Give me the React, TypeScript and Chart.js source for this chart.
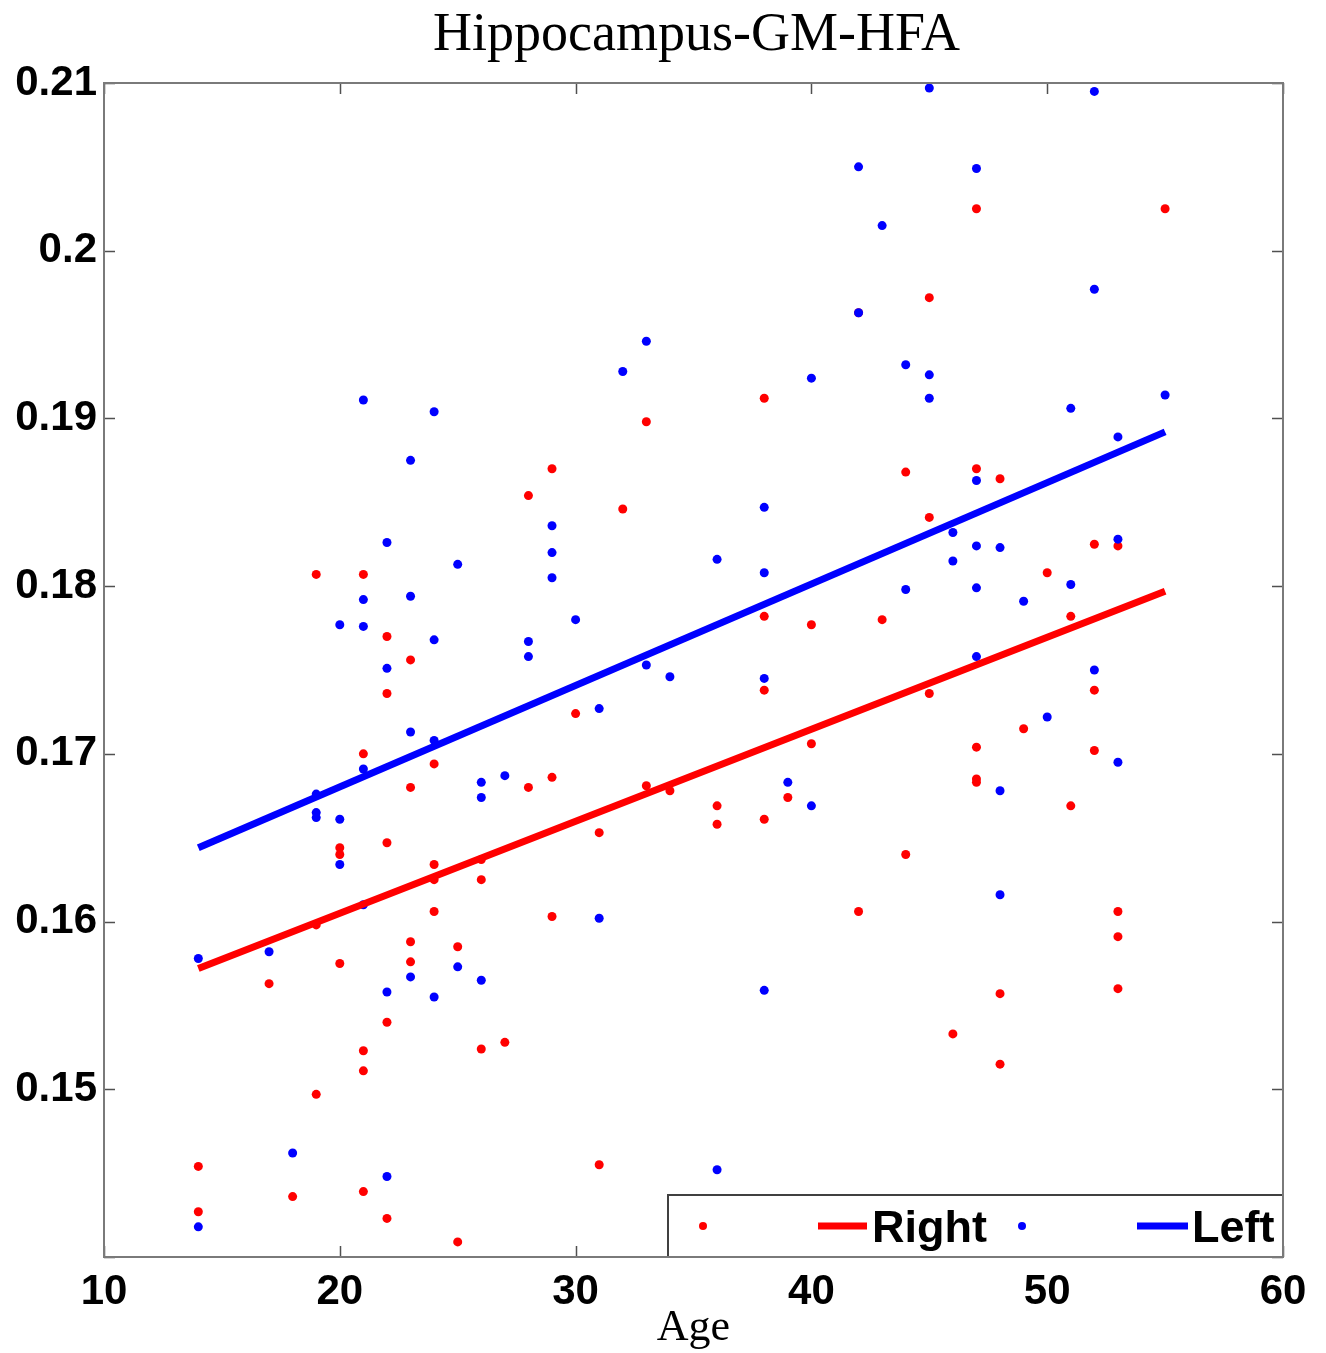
import { useEffect, useRef } from "react";
import { Chart, registerables } from "chart.js";
Chart.register(...registerables);

const chartTitle = "Hippocampus-GM-HFA";
const xAxisLabel = "Age";
const xTickValues = [10, 20, 30, 40, 50, 60];
const yTickValues = [0.14, 0.15, 0.16, 0.17, 0.18, 0.19, 0.2, 0.21];

const rightAges = [
  14, 14, 17, 18, 19, 19, 19, 20, 20, 20, 21, 21, 21, 21, 21, 22, 22, 22, 22, 22,
  23, 23, 23, 23, 24, 24, 24, 24, 25, 25, 26, 26, 26, 27, 28, 28, 29, 29, 29, 30,
  31, 31, 32, 33, 33, 34, 36, 36, 38, 38, 38, 38, 39, 40, 40, 42, 42, 43, 44, 44,
  45, 45, 45, 46, 47, 47, 47, 47, 47, 48, 48, 48, 49, 50, 51, 51, 52, 52, 52, 53,
  53, 53, 53, 55,
];
const rightValues = [
  0.1454, 0.1427, 0.1563, 0.1436, 0.1807, 0.1598, 0.1497, 0.1644, 0.164, 0.1575,
  0.1807, 0.17, 0.1523, 0.1511, 0.1439, 0.177, 0.1736, 0.1647, 0.154, 0.1423,
  0.1756, 0.168, 0.1588, 0.1576, 0.1694, 0.1634, 0.1625, 0.1606, 0.1585, 0.1409,
  0.1637, 0.1625, 0.1524, 0.1528, 0.1854, 0.168, 0.187, 0.1686, 0.1603, 0.1724,
  0.1653, 0.1455, 0.1846, 0.1898, 0.1681, 0.1678, 0.1669, 0.1658, 0.1912, 0.1782,
  0.1738, 0.1661, 0.1674, 0.1777, 0.1706, 0.1963, 0.1606, 0.178, 0.1868, 0.164,
  0.1972, 0.1841, 0.1736, 0.1533, 0.2025, 0.187, 0.1704, 0.1685, 0.1683, 0.1864,
  0.1557, 0.1515, 0.1715, 0.1808, 0.1782, 0.1669, 0.1825, 0.1738, 0.1702, 0.1824,
  0.1606, 0.1591, 0.156, 0.2025,
];

const leftAges = [
  14, 14, 17, 18, 19, 19, 19, 20, 20, 20, 21, 21, 21, 21, 21, 22, 22, 22, 22, 23,
  23, 23, 23, 24, 24, 24, 24, 25, 25, 26, 26, 26, 27, 28, 28, 29, 29, 29, 30, 31,
  31, 32, 33, 33, 34, 36, 36, 38, 38, 38, 38, 39, 40, 40, 42, 42, 43, 44, 44, 45,
  45, 45, 46, 46, 47, 47, 47, 47, 47, 48, 48, 48, 49, 50, 51, 51, 52, 52, 52, 53,
  53, 53, 55,
];
const leftValues = [
  0.1578, 0.1418, 0.1582, 0.1462, 0.1676, 0.1665, 0.1662, 0.1777, 0.1661, 0.1634,
  0.1911, 0.1792, 0.1776, 0.1691, 0.161, 0.1826, 0.1751, 0.1558, 0.1448, 0.1875,
  0.1794, 0.1713, 0.1567, 0.1904, 0.1768, 0.1708, 0.1555, 0.1813, 0.1573, 0.1683,
  0.1674, 0.1565, 0.1687, 0.1767, 0.1758, 0.1836, 0.182, 0.1805, 0.178, 0.1727,
  0.1602, 0.1928, 0.1946, 0.1753, 0.1746, 0.1816, 0.1452, 0.1847, 0.1808, 0.1745,
  0.1559, 0.1683, 0.1924, 0.1669, 0.205, 0.1963, 0.2015, 0.1932, 0.1798, 0.2097,
  0.1926, 0.1912, 0.1832, 0.1815, 0.2049, 0.1863, 0.1824, 0.1799, 0.1758, 0.1823,
  0.1678, 0.1616, 0.1791, 0.1722, 0.1906, 0.1801, 0.2095, 0.1977, 0.175, 0.1889,
  0.1828, 0.1695, 0.1914,
];

const fitAges = [14, 55];
const rightFit = [0.1572, 0.1797];
const leftFit = [0.1644, 0.1892];

const RED = "rgb(255,0,0)";
const BLUE = "rgb(0,0,255)";

const decorPlugin = {
  id: "decor",
  beforeDraw(chart: any) {
    const { ctx, width, height } = chart;
    ctx.save();
    ctx.fillStyle = "#ffffff";
    ctx.fillRect(0, 0, width, height);
    ctx.restore();
  },
  afterDraw(chart: any) {
    const { ctx, chartArea: a } = chart;
    const xs = chart.scales.x;
    const ys = chart.scales.y;
    ctx.save();
    // inner ticks
    ctx.strokeStyle = "#505050";
    ctx.lineWidth = 1.5;
    const tl = 11;
    ctx.beginPath();
    for (const v of xTickValues) {
      const px = Math.round(xs.getPixelForValue(v)) + 0.5;
      ctx.moveTo(px, a.bottom);
      ctx.lineTo(px, a.bottom - tl);
      ctx.moveTo(px, a.top);
      ctx.lineTo(px, a.top + tl);
    }
    for (const v of yTickValues) {
      const py = Math.round(ys.getPixelForValue(v)) + 0.5;
      ctx.moveTo(a.left, py);
      ctx.lineTo(a.left + tl, py);
      ctx.moveTo(a.right, py);
      ctx.lineTo(a.right - tl, py);
    }
    ctx.stroke();

    // legend box
    const lw = 615;
    const lh = 62;
    const lx = a.right - lw;
    const ly = a.bottom - lh;
    ctx.fillStyle = "#ffffff";
    ctx.fillRect(lx, ly, lw, lh);
    ctx.strokeStyle = "#404040";
    ctx.lineWidth = 2;
    ctx.strokeRect(lx, ly, lw, lh);
    const cy = ly + 31;
    ctx.fillStyle = RED;
    ctx.beginPath();
    ctx.arc(lx + 35, cy, 4, 0, Math.PI * 2);
    ctx.fill();
    ctx.strokeStyle = RED;
    ctx.lineWidth = 7;
    ctx.beginPath();
    ctx.moveTo(lx + 150, cy);
    ctx.lineTo(lx + 199, cy);
    ctx.stroke();
    ctx.fillStyle = BLUE;
    ctx.beginPath();
    ctx.arc(lx + 354, cy, 4, 0, Math.PI * 2);
    ctx.fill();
    ctx.strokeStyle = BLUE;
    ctx.beginPath();
    ctx.moveTo(lx + 469, cy);
    ctx.lineTo(lx + 520, cy);
    ctx.stroke();
    ctx.fillStyle = "#000000";
    ctx.font = 'bold 45px "Liberation Sans", Arial, sans-serif';
    ctx.textAlign = "left";
    ctx.textBaseline = "alphabetic";
    ctx.fillText("Right", lx + 204, cy + 16);
    ctx.fillText("Left", lx + 524, cy + 16);

    // plot box
    ctx.strokeStyle = "#7a7a7a";
    ctx.lineWidth = 2;
    ctx.strokeRect(a.left, a.top, a.right - a.left, a.bottom - a.top);

    // title
    ctx.fillStyle = "#000000";
    ctx.font = '54px "Liberation Serif", "Times New Roman", serif';
    ctx.textAlign = "center";
    ctx.fillText(chartTitle, (a.left + a.right) / 2 + 3, 50);
    // x axis label
    ctx.font = '44px "Liberation Serif", "Times New Roman", serif';
    ctx.fillText(xAxisLabel, (a.left + a.right) / 2, a.bottom + 83);
    ctx.restore();
  },
};

export default function App() {
  const canvasRef = useRef<HTMLCanvasElement | null>(null);

  useEffect(() => {
    const canvas = canvasRef.current;
    if (!canvas) return;
    const tickFont = { family: '"Liberation Sans", Arial, sans-serif', size: 42, weight: "bold" as const };
    const chart = new Chart(canvas, {
      type: "scatter",
      data: {
        datasets: [
          {
            type: "line",
            label: "Right",
            data: fitAges.map((x, i) => ({ x, y: rightFit[i] })),
            borderColor: RED,
            borderWidth: 7,
            pointRadius: 0,
            showLine: true,
            fill: false,
            order: 0,
          },
          {
            type: "line",
            label: "Left",
            data: fitAges.map((x, i) => ({ x, y: leftFit[i] })),
            borderColor: BLUE,
            borderWidth: 7,
            pointRadius: 0,
            showLine: true,
            fill: false,
            order: 0,
          },
          {
            label: "Right points",
            data: rightAges.map((x, i) => ({ x, y: rightValues[i] })),
            backgroundColor: RED,
            borderColor: RED,
            borderWidth: 0,
            pointRadius: 4.5,
            order: 2,
          },
          {
            label: "Left points",
            data: leftAges.map((x, i) => ({ x, y: leftValues[i] })),
            backgroundColor: BLUE,
            borderColor: BLUE,
            borderWidth: 0,
            pointRadius: 4.5,
            order: 1,
          },
        ] as any,
      },
      options: {
        animation: false,
        responsive: true,
        maintainAspectRatio: false,
        layout: { padding: { left: 0, right: 43, top: 83, bottom: 0 } },
        plugins: {
          legend: { display: false },
          title: { display: false },
          tooltip: { enabled: false },
        },
        scales: {
          x: {
            type: "linear",
            min: 10,
            max: 60,
            afterFit: (s: any) => {
              s.height = 96;
            },
            afterBuildTicks: (s: any) => {
              s.ticks = xTickValues.map((v) => ({ value: v }));
            },
            grid: { display: false, drawTicks: false },
            border: { display: false },
            ticks: {
              font: tickFont,
              color: "#000000",
              padding: 10,
              maxRotation: 0,
              autoSkip: false,
              callback: (v: any) => String(v),
            },
          },
          y: {
            type: "linear",
            min: 0.14,
            max: 0.21,
            afterFit: (s: any) => {
              s.width = 104;
            },
            afterBuildTicks: (s: any) => {
              s.ticks = yTickValues.map((v) => ({ value: v }));
            },
            grid: { display: false, drawTicks: false },
            border: { display: false },
            ticks: {
              font: tickFont,
              color: "#000000",
              padding: 7,
              autoSkip: false,
              callback: (v: any) => {
                const n = Math.round(Number(v) * 100) / 100;
                if (n <= 0.14) return "";
                return String(n);
              },
            },
          },
        },
      },
      plugins: [decorPlugin],
    });
    return () => chart.destroy();
  }, []);

  return (
    <div style={{ position: "absolute", left: 0, top: 0, width: 1326, height: 1353, background: "#fff" }}>
      <canvas ref={canvasRef} />
    </div>
  );
}
